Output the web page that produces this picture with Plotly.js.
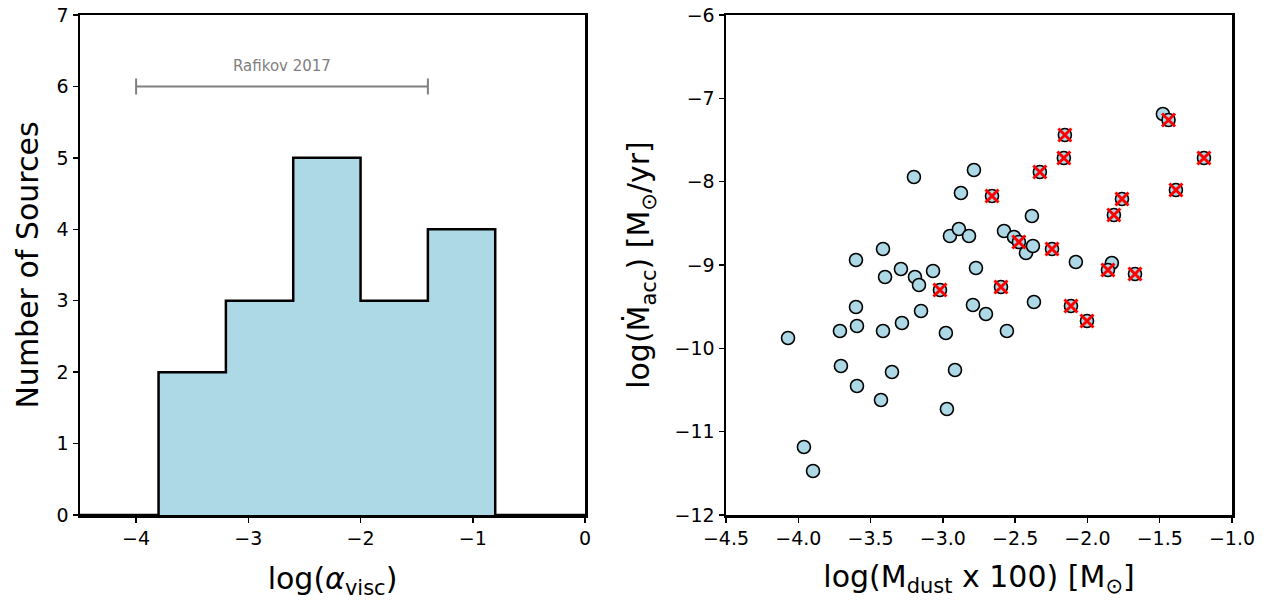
<!DOCTYPE html>
<html>
<head>
<meta charset="utf-8">
<script src="https://cdn.plot.ly/plotly-3.0.1.min.js"></script>
<style>html,body{margin:0;padding:0;background:#fff;}#chart{width:1267px;height:603px;}</style>
</head>
<body>
<div id="chart"></div>
<script>
// Histogram of log(alpha_visc)
const binEdges = [-3.8, -3.2, -2.6, -2.0, -1.4, -0.8];
const binCounts = [2, 3, 5, 3, 4];

// Rafikov 2017 range
const rafikovRange = [-4.0, -1.4];
const rafikovLevel = 6;
const rafikovLabel = "Rafikov 2017";

// Scatter: all sources (log Mdust x100, log Macc)
const allX = [-4.071, -3.961, -3.898, -3.712, -3.705, -3.601, -3.601, -3.594, -3.594, -3.414,
  -3.400, -3.414, -3.428, -3.352, -3.290, -3.283, -3.200, -3.193, -3.165, -3.151,
  -3.068, -2.979, -2.972, -2.951, -2.916, -2.889, -2.875, -2.819, -2.785, -2.771,
  -2.792, -2.702, -2.577, -2.557, -2.508, -2.425, -2.377, -2.384, -2.370, -2.080,
  -1.831, -1.478,
  -3.020, -2.660, -2.598, -2.474, -2.245, -2.114, -2.003, -1.858, -1.671, -1.439,
  -2.156, -2.163, -2.329, -1.194, -1.388, -1.761, -1.817];
const allY = [-9.876, -11.184, -11.472, -9.792, -10.212, -8.940, -9.504, -9.732, -10.452, -8.808,
  -9.144, -9.792, -10.620, -10.284, -9.048, -9.696, -7.944, -9.144, -9.240, -9.552,
  -9.072, -9.816, -10.728, -8.652, -10.260, -8.568, -8.136, -8.652, -7.860, -9.036,
  -9.480, -9.588, -8.592, -9.792, -8.664, -8.856, -8.772, -8.412, -9.444, -8.964,
  -8.976, -7.188,
  -9.300, -8.172, -9.264, -8.724, -8.808, -9.492, -9.672, -9.060, -9.108, -7.260,
  -7.440, -7.716, -7.884, -7.716, -8.100, -8.208, -8.400];
// Flagged sources (red crosses)
const flagX = [-3.020, -2.660, -2.598, -2.474, -2.245, -2.114, -2.003, -1.858, -1.671, -1.439,
  -2.156, -2.163, -2.329, -1.194, -1.388, -1.761, -1.817];
const flagY = [-9.300, -8.172, -9.264, -8.724, -8.808, -9.492, -9.672, -9.060, -9.108, -7.260,
  -7.440, -7.716, -7.884, -7.716, -8.100, -8.208, -8.400];

const histTicks = [-4, -3, -2, -1, 0];
const histTickText = ["−4", "−3", "−2", "−1", "0"];
const scatXTicks = [-4.5, -4.0, -3.5, -3.0, -2.5, -2.0, -1.5, -1.0];
const scatXTickText = ["−4.5", "−4.0", "−3.5", "−3.0", "−2.5", "−2.0", "−1.5", "−1.0"];
const scatYTicks = [-12, -11, -10, -9, -8, -7, -6];
const scatYTickText = ["−12", "−11", "−10", "−9", "−8", "−7", "−6"];

// build step outline
const xLeft = -4.5, xRight = 0;
const stepX = [xLeft].concat(binEdges).concat([xRight]);
const stepY = [0].concat(binCounts).concat([0, 0]);

const FONT = "DejaVu Sans, Liberation Sans, sans-serif";

const traces = [
  {
    x: stepX, y: stepY, type: "scatter", mode: "lines",
    line: {shape: "hv", color: "black", width: 2.5},
    fill: "tozeroy", fillcolor: "#add8e6",
    xaxis: "x", yaxis: "y", hoverinfo: "skip", showlegend: false
  },
  {
    x: [(rafikovRange[0] + rafikovRange[1]) / 2], y: [rafikovLevel],
    type: "scatter", mode: "markers",
    marker: {size: 1, color: "rgba(0,0,0,0)"},
    error_x: {type: "data", symmetric: true, array: [(rafikovRange[1] - rafikovRange[0]) / 2],
      color: "#808080", thickness: 2, width: 8},
    xaxis: "x", yaxis: "y", showlegend: false
  },
  {
    x: allX, y: allY, type: "scatter", mode: "markers",
    marker: {size: 13, color: "#add8e6", line: {color: "black", width: 1.6}},
    xaxis: "x2", yaxis: "y2", showlegend: false
  },
  {
    x: flagX, y: flagY, type: "scatter", mode: "markers",
    marker: {size: 13, symbol: "x-thin", color: "red", line: {color: "red", width: 3}},
    xaxis: "x2", yaxis: "y2", showlegend: false
  }
];

const axCommon = {
  showline: true, mirror: true, linecolor: "black", linewidth: 2.5,
  ticks: "outside", ticklen: 5, tickwidth: 1.5, tickcolor: "black",
  showgrid: false, zeroline: false, automargin: false,
  tickfont: {family: FONT, size: 19, color: "black"}
};

const layout = {
  width: 1267, height: 603,
  margin: {l: 0, r: 0, t: 0, b: 0},
  paper_bgcolor: "white", plot_bgcolor: "white",
  showlegend: false,
  xaxis: Object.assign({}, axCommon, {
    domain: [80/1267, 585/1267], range: [-4.5, 0],
    tickvals: histTicks, ticktext: histTickText,
    title: {text: "log(<i>α</i><sub>visc</sub>)", font: {family: FONT, size: 30, color: "black"}, standoff: 20}
  }),
  yaxis: Object.assign({}, axCommon, {
    domain: [1 - 515/603, 1 - 15/603], range: [0, 7],
    tickvals: [0,1,2,3,4,5,6,7],
    title: {text: "Number of Sources", font: {family: FONT, size: 30, color: "black"}, standoff: 9}
  }),
  xaxis2: Object.assign({}, axCommon, {
    domain: [726/1267, 1232/1267], range: [-4.5, -1.0], anchor: "y2",
    tickvals: scatXTicks, ticktext: scatXTickText,
    title: {text: "log(M<sub>dust</sub> x 100) [M<sub>⊙</sub>]", font: {family: FONT, size: 30, color: "black"}, standoff: 18}
  }),
  yaxis2: Object.assign({}, axCommon, {
    domain: [1 - 515/603, 1 - 15/603], range: [-12, -6], anchor: "x2",
    tickvals: scatYTicks, ticktext: scatYTickText,
    title: {text: "log(Ṁ<sub>acc</sub>) [M<sub>⊙</sub>/yr]", font: {family: FONT, size: 30, color: "black"}, standoff: 16}
  }),
  annotations: [
    {x: (rafikovRange[0] + rafikovRange[1]) / 2, y: rafikovLevel + 0.29, xref: "x", yref: "y",
     text: rafikovLabel, showarrow: false, font: {family: FONT, size: 15, color: "#808080"}}
  ]
};

Plotly.newPlot("chart", traces, layout, {displayModeBar: false, staticPlot: true});
</script>
</body>
</html>
